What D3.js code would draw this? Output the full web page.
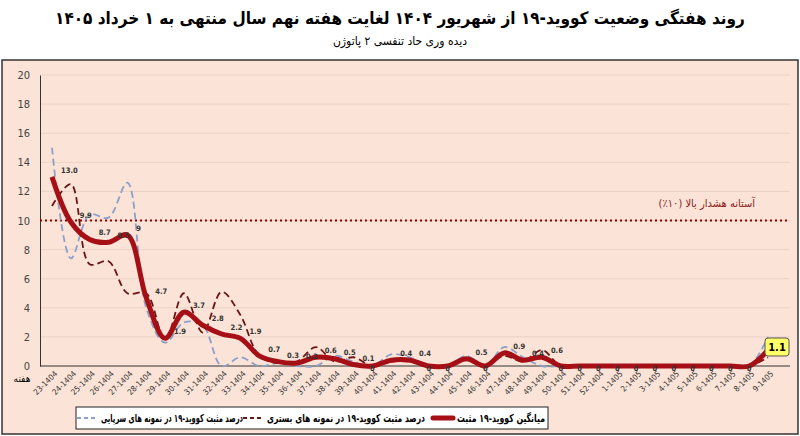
<!DOCTYPE html><html><head><meta charset="utf-8"><script src="https://cdn.jsdelivr.net/npm/d3@7"></script>
<style>body{margin:0;background:#fff}text{font-family:"DejaVu Sans Condensed","Noto Sans",sans-serif}</style></head><body><svg id="c" width="800" height="436"></svg><script>
const categories=["23-1404","24-1404","25-1404","26-1404","27-1404","28-1404","29-1404","30-1404","31-1404","32-1404","33-1404","34-1404","35-1404","36-1404","37-1404","38-1404","39-1404","40-1404","41-1404","42-1404","43-1404","44-1404","45-1404","46-1404","47-1404","48-1404","49-1404","50-1404","51-1404","52-1404","1-1405","2-1405","3-1405","4-1405","5-1405","6-1405","7-1405","8-1405","9-1405"];
const avgValues=[13.0,9.9,8.7,8.5,9.0,4.7,1.9,3.7,2.8,2.2,1.9,0.7,0.3,0.2,0.6,0.5,0.1,0,0.4,0.4,0,0,0.5,0,0.9,0.4,0.6,0,0,0,0,0,0,0,0,0,0,0,1.1];
const outpatient=[15,7.4,10.4,10.2,12.6,4,1.6,3,2.8,0,0.6,0,0.2,0,0,0.7,0.3,0,0.8,0.6,0,0,0.7,0,1.3,0.6,0,0,0,0,0,0,0,0,0,0,0,0,2.0];
const inpatient=[11,12.5,7,7.2,5,5,1.8,5.0,2.3,5.1,3.5,0.7,0.2,0.3,1.3,0.3,0.6,0,0.3,0.3,0,0,0.4,0,0.7,0.3,1.1,0,0,0,0,0,0,0,0,0,0,0,0.6];
const yTicks=[0,2,4,6,8,10,12,14,16,18,20];
const legendLabels=["میانگین کووید-۱۹ مثبت","درصد  مثبت کووید-۱۹ در نمونه های بستری","درصد  مثبت کووید-۱۹ در نمونه های سرپایی"];
const svg=d3.select("#c");
svg.append("rect").attr("x",2).attr("y",60).attr("width",796).attr("height",374).attr("fill","#fbe4d7").attr("stroke","#333").attr("stroke-width",1.5);
svg.append("text").attr("x",400).attr("y",24).attr("text-anchor","middle").attr("direction","rtl").attr("font-weight","bold").attr("font-size",17).text("روند  هفتگی وضعیت کووید-۱۹ از شهریور ۱۴۰۴ لغایت هفته نهم سال منتهی به ۱ خرداد ۱۴۰۵");
svg.append("text").attr("x",400).attr("y",45).attr("text-anchor","middle").attr("direction","rtl").attr("font-size",12).text("دیده وری حاد تنفسی ۲ پاتوژن");
const x=d3.scalePoint().domain(categories).range([52,768]);
const y=d3.scaleLinear().domain([0,20]).range([366,75]);
const g=svg.append("g");
g.selectAll(".gl").data(yTicks.slice(1)).join("line").attr("x1",40).attr("x2",790).attr("y1",d=>y(d)).attr("y2",d=>y(d)).attr("stroke","#ead2c5");
const ya=g.append("g").attr("transform","translate(40,0)").call(d3.axisLeft(y).tickValues(yTicks).tickSize(0).tickPadding(10));
ya.select(".domain").attr("stroke","#333");ya.selectAll("text").attr("font-size",11).attr("fill","#444");
const xa=g.append("g").attr("transform","translate(0,366)").call(d3.axisBottom(x).tickSize(0).tickPadding(4));
xa.select(".domain").attr("d","M40,0H790").attr("stroke","#333");
xa.selectAll("text").attr("font-size",8).attr("fill","#333").attr("text-anchor","end").attr("transform","rotate(-45) translate(-2,0)");
svg.append("text").attr("x",22).attr("y",382).attr("text-anchor","middle").attr("font-size",10).text("هفته");
g.append("line").attr("x1",40).attr("x2",790).attr("y1",y(10)).attr("y2",y(10)).attr("stroke","#8b0000").attr("stroke-width",2).attr("stroke-dasharray","2,3");
g.append("text").attr("x",755).attr("y",y(10)-14).attr("text-anchor","start").attr("font-size",11).attr("fill","#8b1a1a").attr("direction","rtl").text("آستانه هشدار بالا (۱۰٪)");
const line=d=>d3.line().x((v,i)=>x(categories[i])).y(v=>y(v)).curve(d3.curveCatmullRom.alpha(0.5))(d);
g.append("path").attr("d",line(outpatient)).attr("fill","none").attr("stroke","#8ea0c8").attr("stroke-width",1.8).attr("stroke-dasharray","7,4");
g.append("path").attr("d",line(inpatient)).attr("fill","none").attr("stroke","#6b1515").attr("stroke-width",1.8).attr("stroke-dasharray","7,4");
g.append("path").attr("d",line(avgValues)).attr("fill","none").attr("stroke","#a50f15").attr("stroke-width",5);
const n=avgValues.length;
g.selectAll(".lb").data(avgValues.slice(0,n-1)).join("text").attr("x",(v,i)=>x(categories[i])+(v===0?0:9)).attr("y",v=>y(v)-(v===0?-5:4)).attr("text-anchor",v=>v===0?"middle":"start").attr("font-size",7.5).attr("font-weight","bold").attr("fill","#333").text(v=>v===0?"0":(v===9?"9":v.toFixed(1)));
const lx=x(categories[n-1]),ly=y(avgValues[n-1]);
g.append("rect").attr("x",lx-3).attr("y",ly-12).attr("width",24).attr("height",18).attr("rx",3).attr("fill","#ffff66").attr("stroke","#555");
g.append("text").attr("x",lx+9).attr("y",ly+1.5).attr("text-anchor","middle").attr("font-size",11).attr("font-weight","bold").text(avgValues[n-1].toFixed(1));
const lg=svg.append("g");
lg.append("rect").attr("x",76).attr("y",407).attr("width",472).attr("height",22).attr("fill","#fff").attr("stroke","#222");
const slots=[{r:545,w:88,c:"#a50f15",sw:5,d:null},{r:425,w:158,c:"#6b1515",sw:2,d:"4,3"},{r:243,w:142,c:"#8ea0c8",sw:2,d:"4,3"}];
legendLabels.forEach((t,i)=>{const s=slots[i];
 lg.append("text").attr("x",s.r-s.w).attr("y",422).attr("font-size",11).attr("font-weight","bold").attr("textLength",s.w).attr("lengthAdjust","spacingAndGlyphs").text(t);
 lg.append("line").attr("x1",s.r-s.w-24).attr("x2",s.r-s.w-4).attr("y1",418).attr("y2",418).attr("stroke",s.c).attr("stroke-width",s.sw).attr("stroke-dasharray",s.d).attr("stroke-linecap",i===0?"round":"butt");});
</script></body></html>
